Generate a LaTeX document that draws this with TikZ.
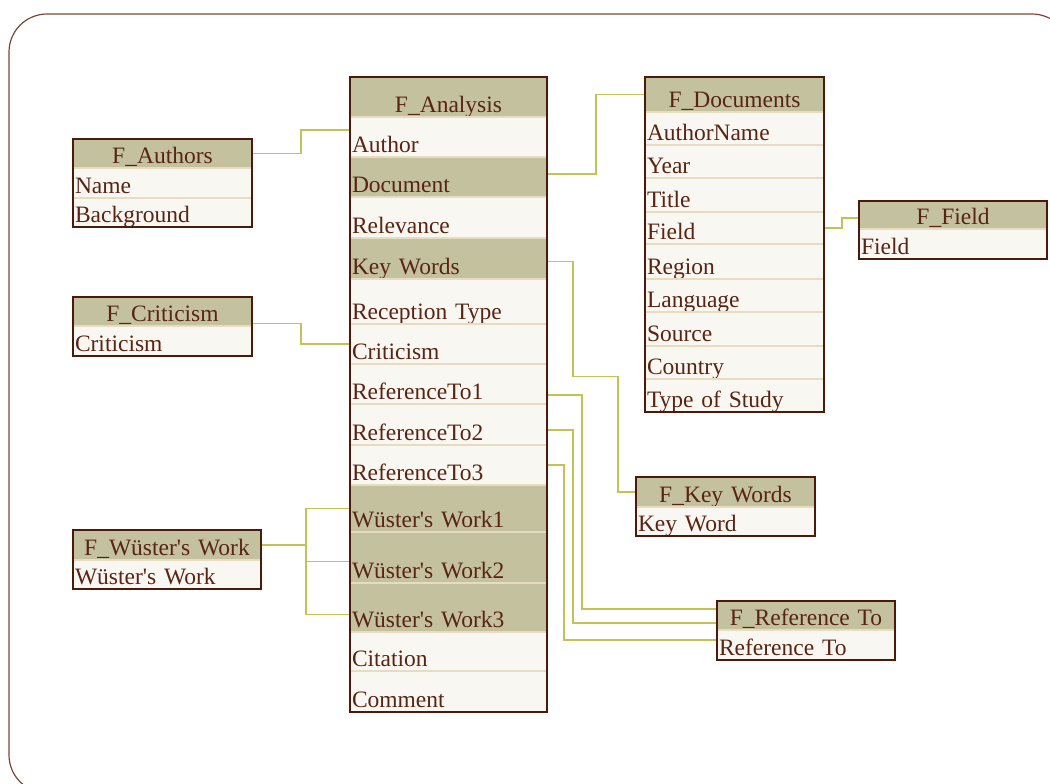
\documentclass[tikz,border=0pt]{standalone}
\usepackage{fontspec}
\newfontfamily\tabfont{Liberation Serif}
\usetikzlibrary{positioning}
\definecolor{Khaki}{HTML}{C4C29E}
\definecolor{Paper}{HTML}{F9F7F1}
\definecolor{SepLine}{HTML}{E8DCC0}
\definecolor{DarkBrown}{HTML}{4B1A0A}
\definecolor{InkBrown}{HTML}{5A2415}
\definecolor{Olive}{HTML}{C4C155}
\definecolor{FrameBrown}{HTML}{7A4636}

\begin{document}
\begin{tikzpicture}[
    x=0.5pt, y=-0.5pt,
    node distance=0pt,
    cell/.style={
      rectangle, outer sep=0pt,
      inner xsep=1pt, inner ysep=0pt, text depth=2.5pt,
      draw=SepLine, line width=1pt,
      font=\tabfont\fontsize{11.75}{14}\selectfont, text=InkBrown
    },
    hd/.style={cell, fill=Khaki, align=center, text width=#1},
    fld/.style={cell, fill=Paper, align=left, text width=#1},
    keyfld/.style={cell, fill=Khaki, align=left, text width=#1},
    tbl/.style={draw=DarkBrown, line width=1.2pt},
    link/.style={Olive, line width=0.75pt},
    bgframe/.style={draw=FrameBrown, line width=0.6pt, rounded corners=19pt}
  ]
  \useasboundingbox (0,0) rectangle (1050,783);
  \clip (0,0) rectangle (1050,783);
  \draw[bgframe] (9,14) rectangle (1070,793);

  \node[hd=96.5pt, text height=17.5pt, anchor=north west] (an-hd) at (350,77) {F\_Analysis};
  \node[fld=96.5pt, text height=17.5pt, below=of an-hd]     (an-author)  {Author};
  \node[keyfld=96.5pt, text height=17.5pt, below=of an-author] (an-doc) {Document};
  \node[fld=96.5pt, text height=18pt, below=of an-doc]      (an-rel)     {Relevance};
  \node[keyfld=96.5pt, text height=18pt, below=of an-rel]   (an-kw)      {Key Words};
  \node[fld=96.5pt, text height=20pt, below=of an-kw]       (an-rec)     {Reception Type};
  \node[fld=96.5pt, text height=17.5pt, below=of an-rec]    (an-crit)    {Criticism};
  \node[fld=96.5pt, text height=17.5pt, below=of an-crit]   (an-r1)      {ReferenceTo1};
  \node[fld=96.5pt, text height=18pt, below=of an-r1]       (an-r2)      {ReferenceTo2};
  \node[fld=96.5pt, text height=17.5pt, below=of an-r2]     (an-r3)      {ReferenceTo3};
  \node[keyfld=96.5pt, text height=21pt, below=of an-r3]    (an-w1)      {Wüster\textquotesingle s Work1};
  \node[keyfld=96.5pt, text height=23pt, below=of an-w1]    (an-w2)      {Wüster\textquotesingle s Work2};
  \node[keyfld=96.5pt, text height=22pt, below=of an-w2]    (an-w3)      {Wüster\textquotesingle s Work3};
  \node[fld=96.5pt, text height=17pt, below=of an-w3]       (an-cit)     {Citation};
  \node[fld=96.5pt, text height=18pt, below=of an-cit]      (an-comment) {Comment};

  \node[hd=87.5pt, text height=12pt, anchor=north west] (au-hd) at (73,139) {F\_Authors};
  \node[fld=87.5pt, text height=12.5pt, below=of au-hd]  (au-name) {Name};
  \node[fld=87.5pt, text height=12pt, below=of au-name]  (au-back) {Background};

  \node[hd=87.5pt, text height=12pt, anchor=north west] (cr-hd) at (73,297) {F\_Criticism};
  \node[fld=87.5pt, text height=12.5pt, below=of cr-hd]  (cr-row) {Criticism};

  \node[hd=92pt, text height=12.5pt, anchor=north west] (wu-hd) at (73,530) {F\_Wüster\textquotesingle s Work};
  \node[fld=92pt, text height=12pt, below=of wu-hd]      (wu-row) {Wüster\textquotesingle s Work};

  \node[hd=87.5pt, text height=15pt, anchor=north west] (do-hd) at (645,77) {F\_Documents};
  \node[fld=87.5pt, text height=14pt, below=of do-hd]      (do-author)  {AuthorName};
  \node[fld=87.5pt, text height=14pt, below=of do-author]  (do-year)    {Year};
  \node[fld=87.5pt, text height=14.5pt, below=of do-year]  (do-title)   {Title};
  \node[fld=87.5pt, text height=13.5pt, below=of do-title] (do-field)   {Field};
  \node[fld=87.5pt, text height=15pt, below=of do-field]   (do-region)  {Region};
  \node[fld=87.5pt, text height=14pt, below=of do-region]  (do-lang)    {Language};
  \node[fld=87.5pt, text height=14.5pt, below=of do-lang]  (do-source)  {Source};
  \node[fld=87.5pt, text height=14pt, below=of do-source]  (do-country) {Country};
  \node[fld=87.5pt, text height=14pt, below=of do-country] (do-type)    {Type of Study};

  \node[hd=92pt, text height=11.5pt, anchor=north west] (fi-hd) at (859,201) {F\_Field};
  \node[fld=92pt, text height=12.5pt, below=of fi-hd]    (fi-row) {Field};

  \node[hd=87.5pt, text height=12.5pt, anchor=north west] (kw-hd) at (636,477) {F\_Key Words};
  \node[fld=87.5pt, text height=12pt, below=of kw-hd]      (kw-row) {Key Word};

  \node[hd=87pt, text height=12pt, anchor=north west] (re-hd) at (717,601) {F\_Reference To};
  \node[fld=87pt, text height=12.5pt, below=of re-hd]   (re-row) {Reference To};

  \draw[link] (au-hd.east) -- ++(49,0) |- ([yshift=3.5pt]an-author.west);
  \draw[link] ([yshift=1.5pt]an-doc.east) -- ++(49,0) |- (do-hd.west);
  \draw[link] (do-field.east) -- ++(18,0) |- ([yshift=-1.5pt]fi-hd.west);
  \draw[link] ([yshift=-6pt]cr-hd.east) -- ++(49,0) |- (an-crit.west);
  \draw[link] ([yshift=-1.5pt]an-kw.east) -- ++(26,0) -- ++(0,115) -- ++(45,0) |- (kw-hd.west);
  \draw[link] (wu-hd.east) -- ++(45,0) coordinate (wj);
  \draw[link] (an-w1.west) -| (wj) |- ([yshift=-3.5pt]an-w3.west);
  \draw[link] ([yshift=-2pt]an-w2.west) -- ++(-44,0);
  \draw[link] ([yshift=-5.5pt]an-r1.east) -- ++(35,0) |- ([yshift=3.25pt]re-hd.west);
  \draw[link] ([yshift=-2.75pt]an-r2.east) -- ++(26,0) |- ([yshift=-3.75pt]re-hd.west);
  \draw[link] (an-r3.east) -- ++(17,0) |- ([yshift=2.5pt]re-row.west);

  \draw[tbl] (an-hd.north west) rectangle (an-comment.south east);
  \draw[tbl] (au-hd.north west) rectangle (au-back.south east);
  \draw[tbl] (cr-hd.north west) rectangle (cr-row.south east);
  \draw[tbl] (wu-hd.north west) rectangle (wu-row.south east);
  \draw[tbl] (do-hd.north west) rectangle (do-type.south east);
  \draw[tbl] (fi-hd.north west) rectangle (fi-row.south east);
  \draw[tbl] (kw-hd.north west) rectangle (kw-row.south east);
  \draw[tbl] (re-hd.north west) rectangle (re-row.south east);
\end{tikzpicture}
\end{document}
